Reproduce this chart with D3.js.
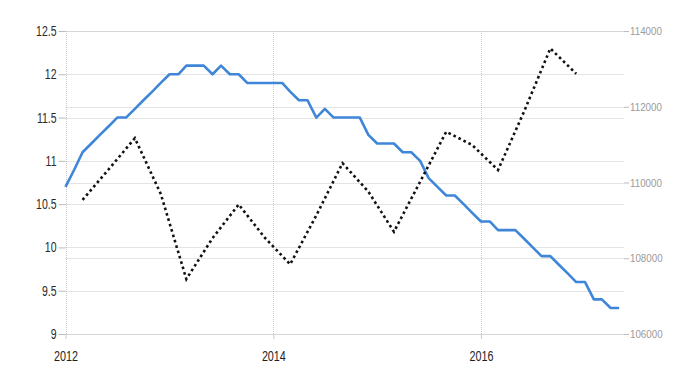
<!DOCTYPE html>
<html>
<head>
<meta charset="utf-8">
<script src="https://cdn.jsdelivr.net/npm/d3@7"></script>
<style>
  html, body { margin: 0; padding: 0; background: #ffffff; }
  svg { display: block; }
</style>
</head>
<body>
<svg id="chart" width="700" height="375"></svg>
<script>
// ---- Data ----
// Monthly series (left axis), starting January 2012
const startYear = 2012;
const unemploymentRate = [
  10.7, 10.9, 11.1, 11.2, 11.3, 11.4, 11.5, 11.5, 11.6, 11.7, 11.8, 11.9,
  12.0, 12.0, 12.1, 12.1, 12.1, 12.0, 12.1, 12.0, 12.0, 11.9, 11.9, 11.9,
  11.9, 11.9, 11.8, 11.7, 11.7, 11.5, 11.6, 11.5, 11.5, 11.5, 11.5, 11.3,
  11.2, 11.2, 11.2, 11.1, 11.1, 11.0, 10.8, 10.7, 10.6, 10.6, 10.5, 10.4,
  10.3, 10.3, 10.2, 10.2, 10.2, 10.1, 10.0, 9.9, 9.9, 9.8, 9.7, 9.6,
  9.6, 9.4, 9.4, 9.3, 9.3
];
// Quarterly series (right axis): month index (from Jan 2012) and value
const quarterMonthIndex = [2, 5, 8, 11, 14, 17, 20, 23, 26, 29, 32, 35, 38, 41, 44, 47, 50, 53, 56, 59];
const quarterlyValues = [
  109540, 110350, 111170, 109700, 107450, 108530, 109420, 108550, 107840, 109130,
  110510, 109760, 108700, 110020, 111340, 110990, 110330, 111880, 113540, 112870
];
const leftTicks = [9, 9.5, 10, 10.5, 11, 11.5, 12, 12.5];
const rightTicks = [106000, 108000, 110000, 112000, 114000];
const xTickYears = [2012, 2014, 2016];

// ---- Layout ----
const plotLeft = 65.5, plotRight = 624, plotTop = 31, plotBottom = 334;
const svg = d3.select("#chart");
const labelFont = '"Liberation Sans", Arial, sans-serif';

const x = d3.scaleTime()
  .domain([new Date(2012, 0, 1), new Date(2017, 4, 18)])
  .range([plotLeft, plotRight]);
const yL = d3.scaleLinear().domain([9, 12.5]).range([plotBottom, plotTop]);
const yR = d3.scaleLinear().domain([106000, 114000]).range([plotBottom, plotTop]);

const gridColor = "#c8c8c8";

// condense axis labels horizontally (reference uses a narrow face)
function condense(sel, s) {
  sel.each(function () {
    const t = d3.select(this);
    const xv = +(t.attr("x") || 0);
    t.attr("x", xv / s).attr("transform", `scale(${s},1)`);
  });
}

// horizontal gridlines (left axis)
svg.append("g").selectAll("line").data(leftTicks).join("line")
  .attr("x1", plotLeft).attr("x2", plotRight)
  .attr("y1", d => Math.round(yL(d)) + 0.5).attr("y2", d => Math.round(yL(d)) + 0.5)
  .attr("stroke", gridColor).attr("stroke-dasharray", "1,1");
// horizontal gridlines (right axis)
svg.append("g").selectAll("line").data(rightTicks).join("line")
  .attr("x1", plotLeft).attr("x2", plotRight)
  .attr("y1", d => Math.round(yR(d)) + 0.5).attr("y2", d => Math.round(yR(d)) + 0.5)
  .attr("stroke", gridColor).attr("stroke-dasharray", "1,1");
// vertical gridlines
svg.append("g").selectAll("line").data(xTickYears).join("line")
  .attr("x1", d => Math.round(x(new Date(d, 0, 1))) + 0.5)
  .attr("x2", d => Math.round(x(new Date(d, 0, 1))) + 0.5)
  .attr("y1", plotTop).attr("y2", plotBottom)
  .attr("stroke", gridColor).attr("stroke-dasharray", "1,1");

// left axis
const axL = svg.append("g")
  .attr("transform", `translate(${plotLeft},0)`)
  .call(d3.axisLeft(yL).tickValues(leftTicks).tickSize(7).tickPadding(2)
    .tickFormat(d => String(d)));
axL.select(".domain").remove();
axL.selectAll(".tick line").attr("stroke", "#bbbbbb");
axL.selectAll(".tick text").attr("fill", "#2a2a2a").style("font-size", "14px")
  .style("font-family", labelFont).call(condense, 0.75);

// right axis
const axR = svg.append("g")
  .attr("transform", `translate(${plotRight},0)`)
  .call(d3.axisRight(yR).tickValues(rightTicks).tickSize(5).tickPadding(1)
    .tickFormat(d => String(d)));
axR.select(".domain").remove();
axR.selectAll(".tick line").attr("stroke", "#bbbbbb");
axR.selectAll(".tick text").attr("fill", "#9a9a9a").style("font-size", "11.5px")
  .style("font-family", labelFont).call(condense, 0.85);

// bottom axis
const axB = svg.append("g")
  .attr("transform", `translate(0,${plotBottom})`)
  .call(d3.axisBottom(x).tickValues(xTickYears.map(yv => new Date(yv, 0, 1)))
    .tickSize(5).tickPadding(11).tickFormat(d3.timeFormat("%Y")));
axB.select(".domain").remove();
axB.selectAll(".tick line").attr("stroke", "#cccccc");
axB.selectAll(".tick text").attr("fill", "#1e1e1e").style("font-size", "15px")
  .style("font-family", labelFont).call(condense, 0.72);

// blue monthly line
const blueData = unemploymentRate.map((v, i) => ({ date: new Date(startYear, i, 1), v }));
svg.append("path")
  .datum(blueData)
  .attr("fill", "none")
  .attr("stroke", "#3f86d9")
  .attr("stroke-width", 2.6)
  .attr("stroke-linejoin", "round")
  .attr("d", d3.line().x(d => x(d.date)).y(d => yL(d.v)));

// black dotted quarterly line
const blackData = quarterMonthIndex.map((m, i) => ({ date: new Date(startYear, m, 1), v: quarterlyValues[i] }));
svg.append("path")
  .datum(blackData)
  .attr("fill", "none")
  .attr("stroke", "#111111")
  .attr("stroke-width", 2.6)
  .attr("stroke-dasharray", "2.6,3")
  .attr("d", d3.line().x(d => x(d.date)).y(d => yR(d.v)));
</script>
</body>
</html>
